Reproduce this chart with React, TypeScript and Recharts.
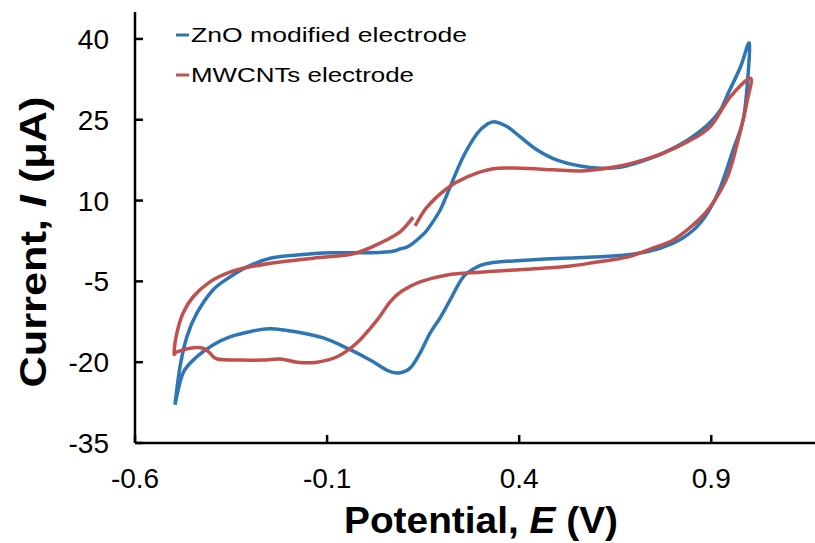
import React from 'react';
import { LineChart, Line, XAxis, YAxis, Legend, Label, ReferenceLine } from 'recharts';

// ZnO modified electrode: one closed CV loop (E in V, I in µA)
const znoPotential = [
  -0.496, -0.483, -0.465, -0.439, -0.397, -0.353, -0.308, -0.248, -0.178, -0.092,
  -0.006, 0.064, 0.09, 0.109, 0.124, 0.142, 0.16, 0.194, 0.22, 0.254,
  0.291, 0.317, 0.338, 0.369, 0.403, 0.447, 0.499, 0.559, 0.611, 0.663,
  0.715, 0.775, 0.838, 0.89, 0.924, 0.942, 0.976, 0.999, 0.994, 0.983,
  0.957, 0.924, 0.89, 0.853, 0.801, 0.733, 0.645, 0.515, 0.384, 0.324,
  0.291, 0.254, 0.22, 0.194, 0.168, 0.142, 0.116, 0.085, 0.056, 0.012,
  -0.048, -0.11, -0.178, -0.248, -0.293, -0.353, -0.397, -0.439, -0.475, -0.496,
];
const znoCurrent = [
  -27.9, -20.9, -15.3, -10.9, -6.6, -4.2, -2.3, -0.7, -0.1, 0.3,
  0.3, 0.5, 1.0, 1.4, 2.1, 3.2, 4.5, 8.2, 12.5, 18.1,
  22.5, 24.2, 24.6, 23.7, 21.8, 19.4, 17.5, 16.4, 16.0, 16.2,
  17.2, 18.8, 21.2, 24.0, 26.8, 29.6, 34.8, 39.2, 31.8, 25.0,
  19.4, 12.5, 7.7, 4.5, 2.1, 0.5, -0.3, -0.7, -1.2, -1.6,
  -2.3, -4.2, -8.5, -11.8, -14.6, -18.3, -21.1, -22.0, -21.5, -19.6,
  -17.4, -15.5, -14.4, -13.8, -14.2, -15.3, -16.8, -19.0, -22.0, -27.9,
];

// MWCNTs electrode: starts near 0.13 V, small gap where the scan closes
const mwcntPotential = [
  0.129, 0.16, 0.213, 0.265, 0.332, 0.403, 0.489, 0.559, 0.629, 0.697,
  0.775, 0.838, 0.897, 0.949, 1.002, 0.994, 0.983, 0.968, 0.942, 0.897,
  0.853, 0.801, 0.749, 0.681, 0.603, 0.515, 0.384, 0.298, 0.213, 0.142,
  0.095, 0.065, 0.03, -0.022, -0.074, -0.126, -0.178, -0.222, -0.267, -0.327,
  -0.386, -0.405, -0.423, -0.457, -0.491, -0.498, -0.491, -0.475, -0.449, -0.405,
  -0.353, -0.301, -0.222, -0.136, -0.048, -0.014, 0.038, 0.09, 0.124,
];
const mwcntCurrent = [
  5.3, 8.8, 12.3, 14.4, 15.9, 16.0, 15.7, 15.5, 16.0, 17.0,
  18.8, 20.9, 23.7, 29.2, 32.7, 28.7, 25.0, 20.7, 14.4, 8.8,
  5.5, 2.7, 1.2, -0.5, -1.4, -2.3, -2.9, -3.3, -3.8, -5.1,
  -6.8, -8.7, -12.2, -16.4, -19.0, -20.0, -20.0, -19.4, -19.6, -19.6,
  -19.4, -18.3, -17.4, -17.4, -18.1, -18.3, -14.6, -10.9, -7.9, -5.1,
  -3.3, -2.3, -1.4, -0.7, -0.1, 0.5, 2.1, 4.2, 6.9,
];

const xTicks = [-0.6, -0.1, 0.4, 0.9];
const yTicks = [-35, -20, -5, 10, 25, 40];
const seriesNames = ['ZnO modified electrode', 'MWCNTs electrode'];

const xMin = -0.6;
const xMax = 1.17;
const yMin = -35;
const yMax = 45;

const zno = znoPotential.map((e, k) => ({ e, i: znoCurrent[k] }));
const mwcnt = mwcntPotential.map((e, k) => ({ e, i: mwcntCurrent[k] }));

const FONT = '"Liberation Sans", Arial, sans-serif';
const legendWidths = [276, 223];

// inward tick stubs are ~8px long; plot is 680px by 431px
const xStub = (8 / 680) * (xMax - xMin);
const yStub = (8 / 431) * (yMax - yMin);

// parametric catmull-rom so the loops stay smooth
const cvCurve = (context: any) => {
  let pts: number[][] = [];
  return {
    areaStart() {},
    areaEnd() {},
    lineStart() { pts = []; },
    point(x: number, y: number) { pts.push([x, y]); },
    lineEnd() {
      if (!pts.length) return;
      context.moveTo(pts[0][0], pts[0][1]);
      for (let k = 0; k < pts.length - 1; k++) {
        const p0 = pts[k - 1] || pts[k];
        const p1 = pts[k];
        const p2 = pts[k + 1];
        const p3 = pts[k + 2] || p2;
        context.bezierCurveTo(
          p1[0] + (p2[0] - p0[0]) / 6, p1[1] + (p2[1] - p0[1]) / 6,
          p2[0] - (p3[0] - p1[0]) / 6, p2[1] - (p3[1] - p1[1]) / 6,
          p2[0], p2[1],
        );
      }
    },
  };
};

const CvLegend = ({ payload }: any) => {
  const items = [...(payload || [])].sort((a: any, b: any) => seriesNames.indexOf(a.value) - seriesNames.indexOf(b.value));
  return (
    <svg width={320} height={80} style={{ display: 'block' }}>
      {items.map((p: any, k: number) => (
        <g key={p.value}>
          <line x1={6} x2={19} y1={17 + k * 40} y2={17 + k * 40} stroke={p.color} strokeWidth={3} />
          <text x={21} y={17 + k * 40} dy="0.36em" fontSize={19.5} fontFamily={FONT} fill="#000"
            textLength={legendWidths[seriesNames.indexOf(p.value)]} lengthAdjust="spacingAndGlyphs">
            {p.value}
          </text>
        </g>
      ))}
    </svg>
  );
};

const XTitle = () => (
  <text x={481} y={533} textAnchor="middle" fontSize={36} fontWeight="bold" fontFamily={FONT} fill="#000"
    textLength={274} lengthAdjust="spacingAndGlyphs">
    Potential, <tspan fontStyle="italic">E</tspan> (V)
  </text>
);

const YTitle = () => (
  <text x={46} y={242} transform="rotate(-90, 46, 242)" textAnchor="middle" fontSize={36} fontWeight="bold"
    fontFamily={FONT} fill="#000" textLength={291} lengthAdjust="spacingAndGlyphs">
    Current, <tspan fontStyle="italic">I</tspan> (μA)
  </text>
);

const tickStyle = { fontSize: 28, fill: '#000', fontFamily: FONT };
const axisStyle = { stroke: '#000', strokeWidth: 2.5 };

export default function App() {
  return (
    <div style={{ position: 'absolute', left: 0, top: 0, background: '#fff' }}>
      <LineChart width={815} height={543} margin={{ top: 12, right: 0, bottom: 0, left: 0 }}>
        <XAxis type="number" dataKey="e" domain={[xMin, xMax]} allowDataOverflow ticks={xTicks} interval={0}
          height={100} tick={tickStyle} tickSize={0} tickMargin={25} axisLine={axisStyle} tickLine={false}
          tickFormatter={(v: number) => String(v)}>
          <Label content={<XTitle />} />
        </XAxis>
        <XAxis xAxisId="top" orientation="top" type="number" domain={[xMin, xMax]} allowDataOverflow
          height={0} tick={false} tickLine={false} axisLine={axisStyle} />
        <YAxis type="number" domain={[yMin, yMax]} allowDataOverflow ticks={yTicks} interval={0} width={135}
          tick={tickStyle} tickSize={0} tickMargin={26} axisLine={axisStyle} tickLine={false}>
          <Label content={<YTitle />} />
        </YAxis>
        {yTicks.map((v) => (
          <ReferenceLine key={`yt${v}`} segment={[{ x: xMin, y: v }, { x: xMin + xStub, y: v }]}
            stroke="#000" strokeWidth={2.5} ifOverflow="visible" />
        ))}
        {xTicks.map((v) => (
          <ReferenceLine key={`xt${v}`} segment={[{ x: v, y: yMin }, { x: v, y: yMin + yStub }]}
            stroke="#000" strokeWidth={2.5} ifOverflow="visible" />
        ))}
        <Legend content={<CvLegend />} layout="vertical" align="center" verticalAlign="middle"
          wrapperStyle={{ left: 170, top: 18, width: 320, height: 80 }} />
        <Line data={zno} dataKey="i" name={seriesNames[0]} type={cvCurve as any} stroke="#2E75B6"
          strokeWidth={3.5} dot={false} isAnimationActive={false} legendType="line" />
        <Line data={mwcnt} dataKey="i" name={seriesNames[1]} type={cvCurve as any} stroke="#C0504D"
          strokeWidth={3.5} dot={false} isAnimationActive={false} legendType="line" />
      </LineChart>
    </div>
  );
}
